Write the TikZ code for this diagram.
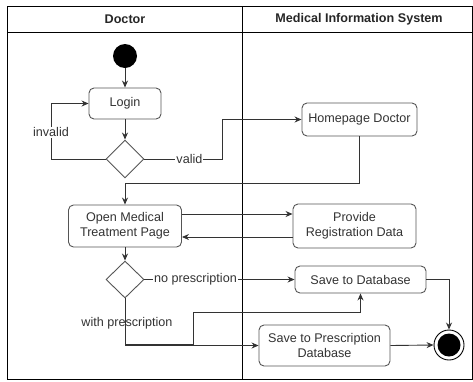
\documentclass[tikz,border=0pt]{standalone}
\usepackage{fontspec}
\setmainfont{Liberation Sans}
\usetikzlibrary{arrows.meta,shapes.geometric}
\definecolor{ink}{HTML}{333333}
\definecolor{boxline}{HTML}{555555}
\begin{document}
\begin{tikzpicture}[x=1pt,y=-1pt,
  font=\fontsize{12.6}{15}\selectfont,
  every node/.style={text=ink},
  action/.style={draw=boxline,line width=0.9pt,rounded corners=5pt,fill=white,
    align=center,inner sep=0pt},
  choice/.style={draw=boxline,line width=0.9pt,diamond,fill=white,inner sep=0pt,
    minimum width=38pt,minimum height=38pt},
  edge/.style={draw=ink,line width=0.9pt,-{Stealth[length=7pt,width=6pt]}},
  lbl/.style={fill=white,inner sep=1pt},
  head/.style={font=\fontsize{12.6}{15}\selectfont\bfseries,text=black!85}]
\useasboundingbox (0,0) rectangle (473,381);

% swimlane frame
\draw[line width=0.9pt] (7,6) rectangle (472,379);
\draw[line width=0.9pt] (7,32) -- (472,32);
\draw[line width=0.9pt] (242,6) -- (242,379);
\node[head] (laneA) at (125,19) {Doctor};
\node[head] (laneB) at (359,19) {Medical Information System};

% activities
\node[circle,fill=black,minimum size=24pt,inner sep=0pt] (start) at (125,56) {};
\node[action,minimum width=72pt,minimum height=31pt] (login) at (125,103.5) {Login};
\node[choice] (d1) at (125,159) {};
\node[action,minimum width=115pt,minimum height=33pt] (home) at (359.5,119.5) {Homepage Doctor};
\node[action,minimum width=113pt,minimum height=42pt] (open) at (125,226) {Open Medical\\Treatment Page};
\node[action,minimum width=123pt,minimum height=44pt] (prov) at (354.5,226) {Provide\\Registration Data};
\node[choice,minimum height=37pt] (d2) at (125,279.5) {};
\node[action,minimum width=131pt,minimum height=27pt] (save) at (360.5,279.5) {Save to Database};
\node[action,minimum width=131pt,minimum height=41pt] (savep) at (324.5,345.5) {Save to Prescription\\Database};
\node[circle,draw=black,line width=0.9pt,minimum size=30pt,inner sep=0pt] (stop) at (449,345) {};
\node[circle,fill=black,minimum size=23pt,inner sep=0pt] (stopcore) at (stop.center) {};

% waypoints
\coordinate (j1) at (125,183);
\coordinate (j2) at (125,344);
\coordinate (j3) at (193,344);
\coordinate (j4) at (193,312);

% flows
\draw[edge] (start) -- (login);
\draw[edge] (login) -- (d1);
\draw[edge] (d1.west) -- (51,159) |- node[lbl,pos=0.24] {invalid} (login.west);
\draw[edge] (d1.east) -- node[lbl,pos=0.58] {valid} (222,159) |- (home.west);
\draw[edge] (home.south) |- (j1) -- (open.north);
\draw[edge] ([yshift=12pt]open.east) -- ([yshift=12pt]prov.west);
\draw[edge] ([yshift=-11pt]prov.west) -- ([yshift=-11pt]open.east);
\draw[edge] (open) -- (d2);
\draw[edge] (d2.east) -- node[lbl,pos=0.34] {no prescription} (save.west);
\draw[edge] (d2.south) |- (savep.west);
\draw[edge] (d2.south) -- (j2) -- (j3) -- (j4) -| (save.south);
\node (wp) at (127,323) {with prescription};
\draw[edge] (save.east) -| (stop.north);
\draw[edge] (savep.east) -- (stop.west);
\end{tikzpicture}
\end{document}
